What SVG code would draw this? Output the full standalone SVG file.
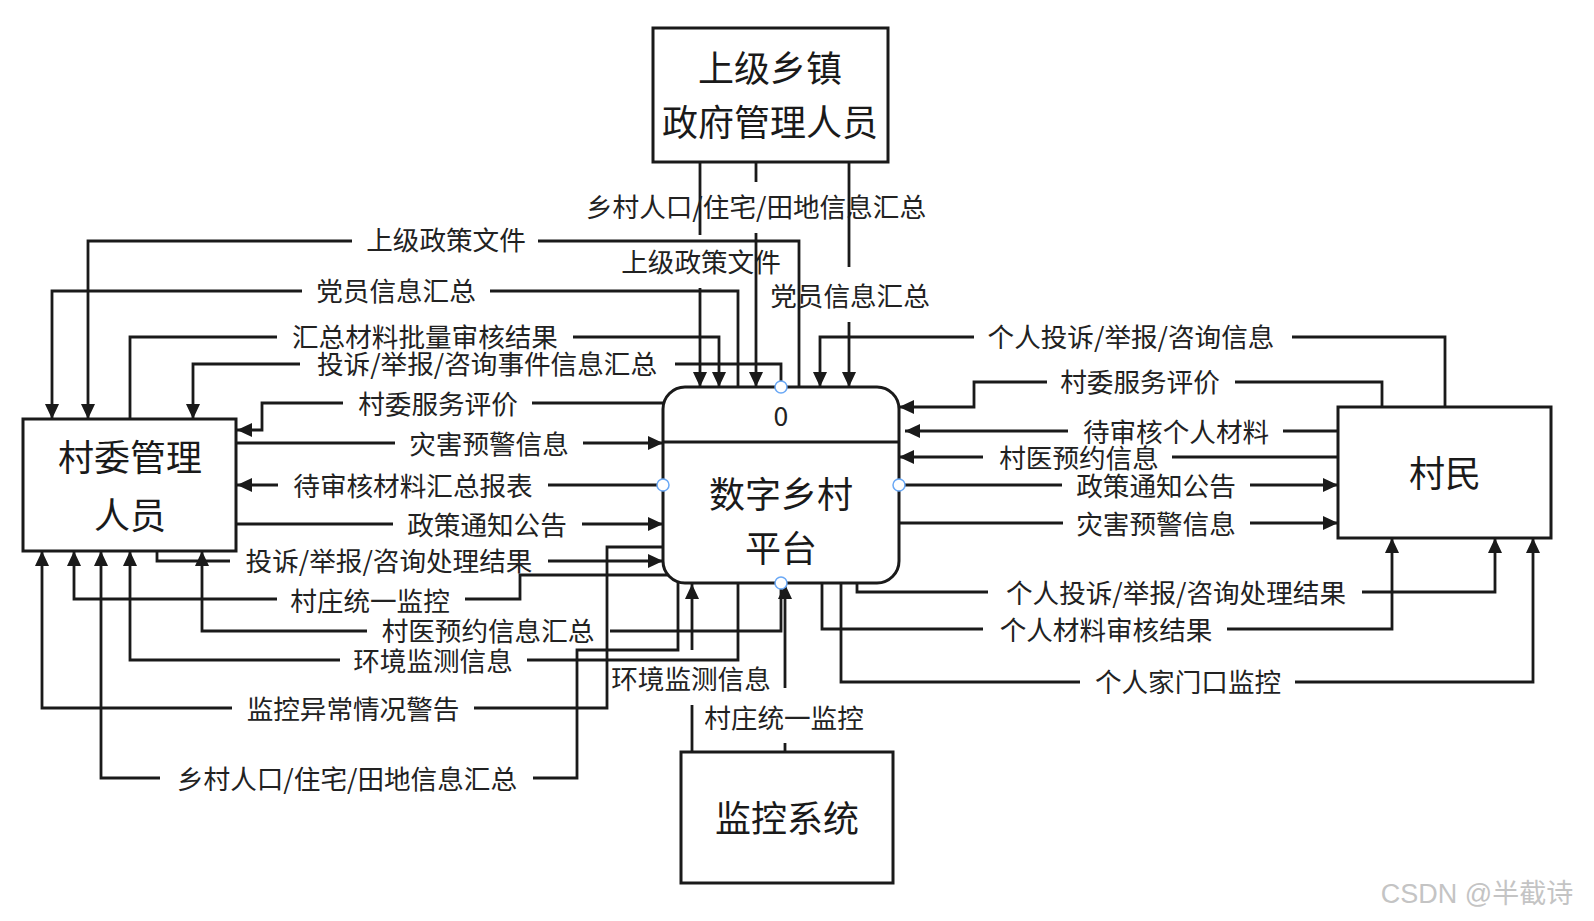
<svg xmlns="http://www.w3.org/2000/svg" width="1594" height="921" viewBox="0 0 1594 921">
<style>
.box{fill:#fff;stroke:#1a1a1a;stroke-width:3}
.ln{fill:none;stroke:#1a1a1a;stroke-width:2.8}
.ar{fill:none;stroke:#1a1a1a;stroke-width:2.8;marker-end:url(#ah)}
.nt{font-family:"Noto Sans CJK SC","Noto Sans",sans-serif;font-size:36px;fill:#1a1a1a;text-anchor:middle;dominant-baseline:central}
.lb{font-family:"Noto Sans CJK SC","Noto Sans",sans-serif;font-size:26.6px;fill:#222;text-anchor:middle;dominant-baseline:central}
.pt{fill:#fff;stroke:#6aa8f5;stroke-width:1.5}
</style>
<defs>
<marker id="ah" markerUnits="userSpaceOnUse" markerWidth="16" markerHeight="16" viewBox="0 0 16 16" refX="15" refY="8" orient="auto">
<path d="M0,1 L15,8 L0,15 z" fill="#1a1a1a"/>
</marker>
</defs>
<rect width="1594" height="921" fill="#fff"/>

<g id="connectors">
<!-- 上级政策文件 left -->
<path class="ln" d="M799,387 V241 H538"/><path class="ar" d="M352,241 H88 V419"/>
<text class="lb" x="446" y="238">上级政策文件</text>
<!-- 党员信息汇总 left -->
<path class="ln" d="M738,387 V291 H490"/><path class="ar" d="M302,291 H52 V419"/>
<text class="lb" x="396" y="289">党员信息汇总</text>
<!-- 汇总材料批量审核结果 -->
<path class="ln" d="M130,419 V337 H277"/><path class="ar" d="M573,337 H719 V387"/>
<text class="lb" x="425" y="335">汇总材料批量审核结果</text>
<!-- 投诉/举报/咨询事件信息汇总 -->
<path class="ln" d="M781,387 V364 H675"/><path class="ar" d="M300,364 H193 V419"/>
<text class="lb" x="487" y="362">投诉/举报/咨询事件信息汇总</text>
<!-- 村委服务评价 left -->
<path class="ln" d="M665,403 H532"/><path class="ar" d="M343,403 H262 V430 H237"/>
<text class="lb" x="438" y="402">村委服务评价</text>
<!-- 灾害预警信息 left -->
<path class="ln" d="M236,443 H395"/><path class="ar" d="M583,443 H663"/>
<text class="lb" x="489" y="442">灾害预警信息</text>
<!-- 待审核材料汇总报表 -->
<path class="ln" d="M663,485 H548"/><path class="ar" d="M278,485 H237"/>
<text class="lb" x="413" y="484">待审核材料汇总报表</text>
<!-- 政策通知公告 left -->
<path class="ln" d="M236,524 H393"/><path class="ar" d="M582,524 H663"/>
<text class="lb" x="487" y="523">政策通知公告</text>
<!-- 投诉/举报/咨询处理结果 -->
<path class="ln" d="M157,551 V561 H230"/><path class="ar" d="M548,561 H663"/>
<text class="lb" x="389" y="559">投诉/举报/咨询处理结果</text>
<!-- 村庄统一监控 left -->
<path class="ln" d="M671,575 H520 V599 H465"/><path class="ar" d="M277,599 H74 V551"/>
<text class="lb" x="370" y="599">村庄统一监控</text>
<!-- 村医预约信息汇总 -->
<path class="ln" d="M781,583 V631 H610"/><path class="ar" d="M367,631 H202 V551"/>
<text class="lb" x="488" y="629">村医预约信息汇总</text>
<!-- 环境监测信息 left -->
<path class="ln" d="M738,583 V660 H527"/><path class="ar" d="M340,660 H130 V551"/>
<text class="lb" x="433" y="659">环境监测信息</text>
<!-- 乡村人口/住宅/田地信息汇总 left -->
<path class="ln" d="M678,583 V650 H577 V778 H533"/><path class="ar" d="M160,778 H101 V551"/>
<text class="lb" x="347" y="777">乡村人口/住宅/田地信息汇总</text>
<!-- 监控异常情况警告 -->
<path class="ln" d="M663,547 H607 V708 H474"/><path class="ar" d="M232,708 H42 V551"/>
<text class="lb" x="353" y="707">监控异常情况警告</text>
<!-- 环境监测信息 bottom -->
<path class="ln" d="M692,752 V705"/><path class="ar" d="M692,650 V584"/>
<text class="lb" x="691" y="677">环境监测信息</text>
<!-- 村庄统一监控 bottom -->
<path class="ln" d="M785,752 V743"/><path class="ar" d="M785,688 V584"/>
<text class="lb" x="784" y="716">村庄统一监控</text>
<!-- top box lines -->
<path class="ln" d="M700,162 V235"/><path class="ar" d="M700,288 V387"/>
<text class="lb" x="701" y="260">上级政策文件</text>
<path class="ln" d="M756,162 V182"/><path class="ar" d="M756,233 V387"/>
<text class="lb" x="756" y="205">乡村人口/住宅/田地信息汇总</text>
<path class="ln" d="M849,162 V267"/><path class="ar" d="M849,322 V387"/>
<text class="lb" x="850" y="294">党员信息汇总</text>
<!-- 个人投诉/举报/咨询信息 -->
<path class="ln" d="M1445,407 V337 H1292"/><path class="ar" d="M974,337 H820 V387"/>
<text class="lb" x="1131" y="335">个人投诉/举报/咨询信息</text>
<!-- 村委服务评价 right -->
<path class="ln" d="M1382,407 V382 H1235"/><path class="ar" d="M1047,382 H974 V407 H899"/>
<text class="lb" x="1140" y="380">村委服务评价</text>
<!-- 待审核个人材料 -->
<path class="ln" d="M1338,431 H1283"/><path class="ar" d="M1068,431 H905"/>
<text class="lb" x="1176" y="430">待审核个人材料</text>
<!-- 村医预约信息 -->
<path class="ln" d="M1338,457 H1172"/><path class="ar" d="M983,457 H899"/>
<text class="lb" x="1079" y="456">村医预约信息</text>
<!-- 政策通知公告 right -->
<path class="ln" d="M899,485 H1062"/><path class="ar" d="M1250,485 H1338"/>
<text class="lb" x="1156" y="484">政策通知公告</text>
<!-- 灾害预警信息 right -->
<path class="ln" d="M899,523 H1063"/><path class="ar" d="M1250,523 H1338"/>
<text class="lb" x="1156" y="522">灾害预警信息</text>
<!-- 个人投诉/举报/咨询处理结果 -->
<path class="ln" d="M857,583 V592 H988"/><path class="ar" d="M1362,592 H1495 V538"/>
<text class="lb" x="1176" y="591">个人投诉/举报/咨询处理结果</text>
<!-- 个人材料审核结果 -->
<path class="ln" d="M822,583 V629 H983"/><path class="ar" d="M1227,629 H1392 V538"/>
<text class="lb" x="1106" y="628">个人材料审核结果</text>
<!-- 个人家门口监控 -->
<path class="ln" d="M841,583 V682 H1080"/><path class="ar" d="M1295,682 H1533 V538"/>
<text class="lb" x="1188" y="680">个人家门口监控</text>
</g>

<g id="node-top">
<rect class="box" x="653" y="28" width="235" height="134"/>
<text class="nt" x="770" y="66">上级乡镇</text>
<text class="nt" x="770" y="120">政府管理人员</text>
</g>

<g id="node-cunwei">
<rect class="box" x="23" y="419" width="213" height="132"/>
<text class="nt" x="130" y="455">村委管理</text>
<text class="nt" x="130" y="513">人员</text>
</g>

<g id="node-platform">
<rect class="box" x="663" y="387" width="236" height="196" rx="22"/>
<line x1="663" y1="442" x2="899" y2="442" stroke="#1a1a1a" stroke-width="2.8"/>
<text class="lb" x="781" y="414">0</text>
<text class="nt" x="781" y="492">数字乡村</text>
<text class="nt" x="781" y="546">平台</text>
<circle class="pt" cx="781" cy="387" r="6"/>
<circle class="pt" cx="663" cy="485" r="6"/>
<circle class="pt" cx="899" cy="485" r="6"/>
<circle class="pt" cx="781" cy="583" r="6"/>
</g>

<g id="node-cunmin">
<rect class="box" x="1338" y="407" width="213" height="131"/>
<text class="nt" x="1445" y="471">村民</text>
</g>

<g id="node-jiankong">
<rect class="box" x="681" y="752" width="212" height="131"/>
<text class="nt" x="787" y="816">监控系统</text>
</g>

<text x="1477" y="894" font-family="'Liberation Sans','Noto Sans CJK SC',sans-serif" font-size="27" fill="#c4c4c4" text-anchor="middle" dominant-baseline="central">CSDN @半截诗</text>
</svg>
